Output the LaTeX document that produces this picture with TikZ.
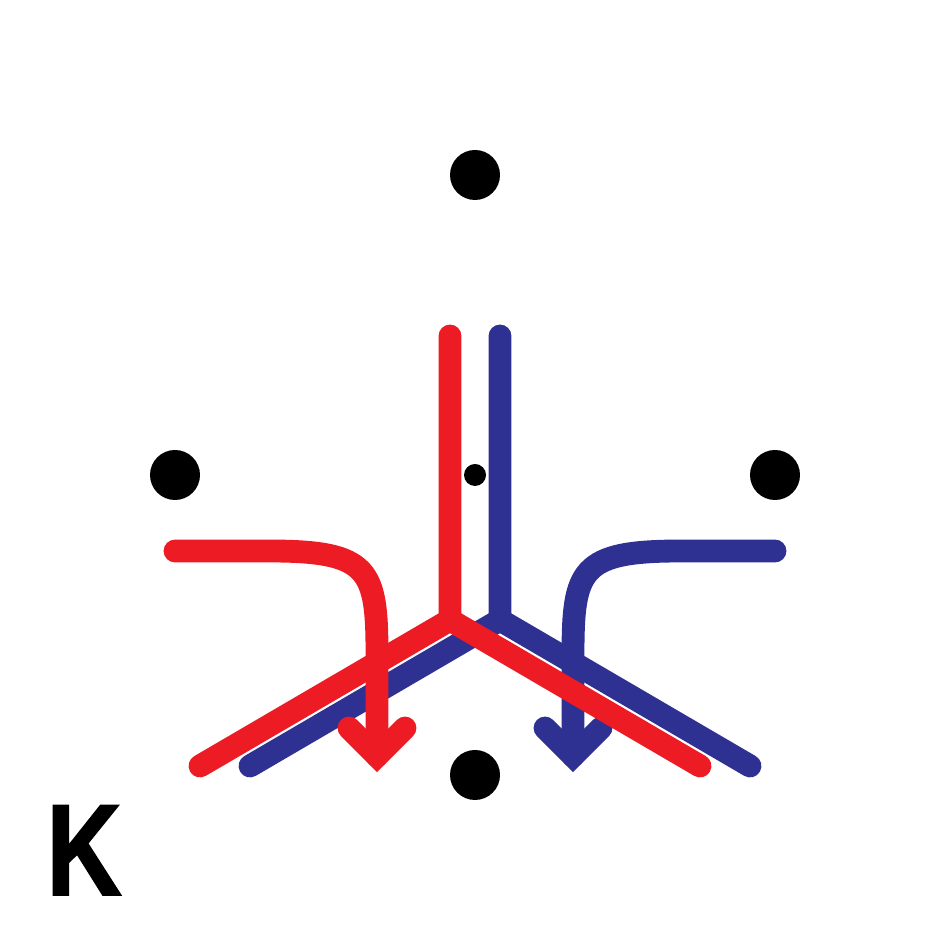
\documentclass[tikz,border=0pt]{standalone}
\usepackage{fontspec}
\setmainfont{Liberation Sans}
\newfontfamily\kfont[FakeBold=1.5]{Liberation Sans Bold}
\usepackage{tikz}
\usetikzlibrary{calc}
\definecolor{redline}{HTML}{ED1C24}
\definecolor{blueline}{HTML}{2E3192}
\tikzset{
  atom/.style={circle,fill=black,minimum size=5mm,inner sep=0pt},
  centre/.style={circle,fill=black,minimum size=2.2mm,inner sep=0pt},
  bond/.style={draw=#1,line width=6.5pt,line cap=round,line join=miter},
  bond/.default=redline,
  lbl/.style={font=\kfont\fontsize{37}{37}\selectfont,inner sep=0pt,anchor=base,xscale=0.8},
}
\begin{document}
\begin{tikzpicture}
    \useasboundingbox (0,0) rectangle (9.5,9.5);

    \node[atom] (top) at (4.75,7.75) {};
    \node[atom] (lft) at (1.75,4.75) {};
    \node[atom] (rgt) at (7.75,4.75) {};
    \node[atom] (bot) at (4.75,1.75) {};
    \node[centre] (mid) at (4.75,4.75) {};

    \coordinate (rtop) at (4.50,6.14);
    \coordinate (rj)   at (4.50,3.30);
    \coordinate (rl)   at (2.00,1.84);
    \coordinate (rr)   at (7.00,1.84);
    \coordinate (btop) at (5.00,6.14);
    \coordinate (bj)   at (5.00,3.30);
    \coordinate (bl)   at (2.50,1.84);
    \coordinate (br)   at (7.50,1.84);

    \coordinate (rs)   at (1.75,3.99);
    \coordinate (rtip) at (3.77,1.94);
    \coordinate (bs)   at (7.75,3.99);
    \coordinate (btip) at (5.73,1.94);

    % blue part first, red over it
    \draw[bond=blueline] (btop) -- (bj) -- (bl) (bj) -- (br);
    \draw[bond=blueline] (bs) -- (6.80,3.99) .. controls (5.80,3.99) and (5.73,3.80) .. (5.73,2.95) -- (btip);
    \draw[bond=blueline] ($(btip)+(-0.28,0.28)$) -- (btip) -- ($(btip)+(0.28,0.28)$);

    \draw[bond] (rtop) -- (rj) -- (rl) (rj) -- (rr);
    \draw[bond] (rs) -- (2.70,3.99) .. controls (3.70,3.99) and (3.77,3.80) .. (3.77,2.95) -- (rtip);
    \draw[bond] ($(rtip)+(-0.28,0.28)$) -- (rtip) -- ($(rtip)+(0.28,0.28)$);

    \node[lbl] (k) at (0.84,0.55) {K};
\end{tikzpicture}
\end{document}
